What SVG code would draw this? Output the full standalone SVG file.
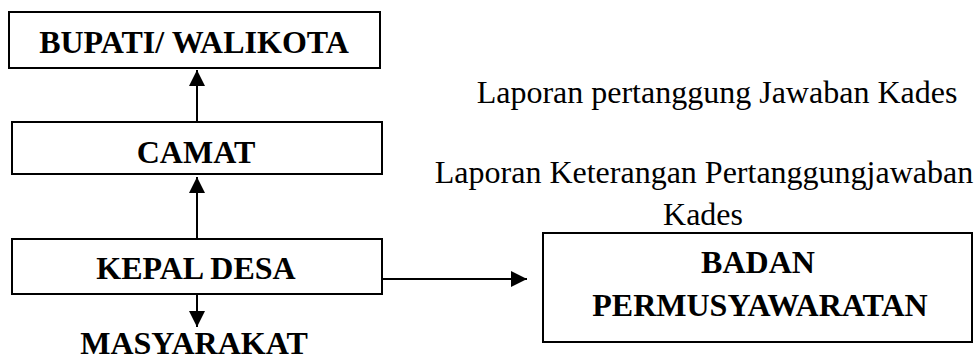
<svg xmlns="http://www.w3.org/2000/svg" width="974" height="357" viewBox="0 0 974 357">
<style>
.box{fill:#fff;stroke:#000;stroke-width:2}
.nl{font-family:"Liberation Serif","Times New Roman",serif;font-weight:bold;font-size:32px;fill:#000;text-anchor:middle}
.lb{font-family:"Liberation Serif","Times New Roman",serif;font-size:32px;fill:#000;text-anchor:middle}
.cn{stroke:#000;stroke-width:2;fill:none}
</style>
<defs>
<marker id="ah" viewBox="0 0 16 16" refX="16" refY="8" markerWidth="16" markerHeight="16" markerUnits="userSpaceOnUse" orient="auto">
<path d="M0,0 L16,8 L0,16 z" fill="#000"/>
</marker>
</defs>
<rect width="974" height="357" fill="#fff"/>
<g id="bupati">
<rect class="box" x="9" y="12" width="371" height="56"/>
<text class="nl" x="194" y="53">BUPATI/ WALIKOTA</text>
</g>
<g id="camat">
<rect class="box" x="12" y="122" width="370" height="52"/>
<text class="nl" x="196" y="163">CAMAT</text>
</g>
<g id="kepal-desa">
<rect class="box" x="12" y="239" width="370" height="55"/>
<text class="nl" x="196" y="279">KEPAL DESA</text>
</g>
<g id="masyarakat">
<text class="nl" x="194" y="354">MASYARAKAT</text>
</g>
<g id="badan">
<rect class="box" x="543" y="233" width="429" height="109"/>
<text class="nl" x="758" y="273">BADAN</text>
<text class="nl" x="760" y="316">PERMUSYAWARATAN</text>
</g>
<g id="labels">
<text class="lb" x="717" y="103">Laporan pertanggung Jawaban Kades</text>
<text class="lb" x="704" y="183">Laporan Keterangan Pertanggungjawaban</text>
<text class="lb" x="703" y="225">Kades</text>
</g>
<g id="connectors">
<line class="cn" x1="197" y1="122" x2="197" y2="70" marker-end="url(#ah)"/>
<line class="cn" x1="197" y1="239" x2="197" y2="177" marker-end="url(#ah)"/>
<line class="cn" x1="197" y1="294" x2="197" y2="327" marker-end="url(#ah)"/>
<line class="cn" x1="382" y1="279" x2="527" y2="279" marker-end="url(#ah)"/>
</g>
</svg>
